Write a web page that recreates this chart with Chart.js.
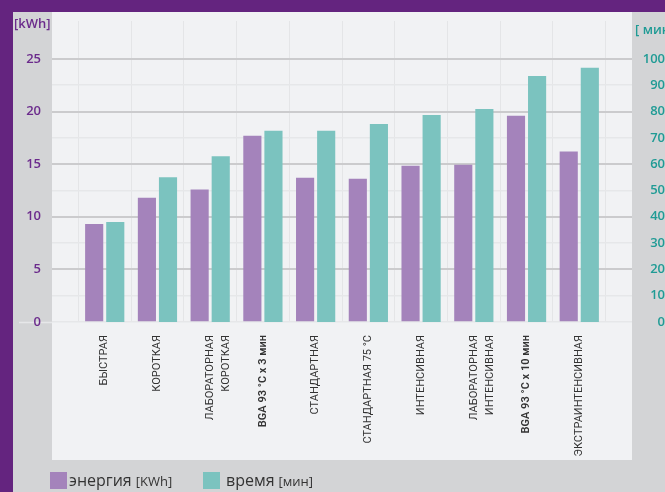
<!DOCTYPE html>
<html><head><meta charset="utf-8">
<script src="https://cdn.jsdelivr.net/npm/chart.js@4/dist/chart.umd.min.js"></script>
<style>html,body{margin:0;padding:0;background:#64247f;overflow:hidden}#wrap{width:665px;height:492px}</style>
</head><body><div id="wrap"><canvas id="c" width="665" height="492"></canvas></div>
<script>
const categories = ['БЫСТРАЯ', 'КОРОТКАЯ', ['ЛАБОРАТОРНАЯ', 'КОРОТКАЯ'], 'BGA 93 °C x 3 мин', 'СТАНДАРТНАЯ', 'СТАНДАРТНАЯ 75 °C', 'ИНТЕНСИВНАЯ', ['ЛАБОРАТОРНАЯ', 'ИНТЕНСИВНАЯ'], 'BGA 93 °C x 10 мин', 'ЭКСТРАИНТЕНСИВНАЯ'];
const energyKWh = [9.3, 11.8, 12.6, 17.7, 13.7, 13.6, 14.85, 14.95, 19.6, 16.2];
const timeMin = [38, 55, 63, 72.7, 72.7, 75.3, 78.7, 81, 93.5, 96.6];
const energyTicks = [0, 2.5, 5, 7.5, 10, 12.5, 15, 17.5, 20, 22.5, 25];
const timeTicks = [0, 10, 20, 30, 40, 50, 60, 70, 80, 90, 100];
const seriesNames = ['энергия', 'время'];
const seriesUnits = ['[KWh]', '[мин]'];
const axisTitles = ['[kWh]', '[ мин]'];

const PURPLE = '#a483bb', TEAL = '#7bc3bf';
const labels = [''].concat(categories, ['']);
const pad = a => [null].concat(a, [null]);
const boldIdx = [4, 9];

const bgPlugin = {
  id: 'bg',
  beforeDraw(chart) {
    const c = chart.ctx, ca = chart.chartArea, ys = chart.scales.y;
    c.save();
    c.fillStyle = '#64247f'; c.fillRect(0, 0, 665, 492);
    c.fillStyle = '#d3d4d6'; c.fillRect(13, 12, 652, 480);
    c.fillStyle = '#f1f2f4'; c.fillRect(ca.left, 12, ca.right - ca.left, 460 - 12);
    const y0 = Math.round(ys.getPixelForValue(0)) + 0.5;
    c.strokeStyle = '#e6e7e9'; c.lineWidth = 1.5;
    c.beginPath(); c.moveTo(19, y0); c.lineTo(ca.left, y0); c.stroke();
    c.restore();
  },
  afterDraw(chart) {
    const c = chart.ctx;
    c.save();
    c.font = '600 13px "Open Sans"'; c.textBaseline = 'middle';
    c.fillStyle = '#6b2b8c'; c.textAlign = 'left';
    c.fillText(axisTitles[0], 14, 24);
    c.fillStyle = '#1f9b95';
    c.fillText(axisTitles[1], 635, 30);
    const cols = [PURPLE, TEAL], xs = [50, 203];
    c.textBaseline = 'alphabetic';
    for (let i = 0; i < 2; i++) {
      c.fillStyle = cols[i]; c.fillRect(xs[i], 472, 17, 17);
      c.fillStyle = '#333';
      c.font = '16px "Open Sans"';
      const tx = xs[i] + (i === 0 ? 19 : 23);
      c.fillText(seriesNames[i], tx, 486);
      const w = c.measureText(seriesNames[i]).width;
      c.font = '13px "Open Sans"';
      c.fillText(seriesUnits[i], tx + w + 4, 486);
    }
    c.restore();
  }
};

new Chart(document.getElementById('c'), {
  type: 'bar',
  data: {
    labels: labels,
    datasets: [
      { label: seriesNames[0] + ' ' + seriesUnits[0], data: pad(energyKWh), backgroundColor: PURPLE, yAxisID: 'y', categoryPercentage: 0.8, barPercentage: 0.86 },
      { label: seriesNames[1] + ' ' + seriesUnits[1], data: pad(timeMin), backgroundColor: TEAL, yAxisID: 'y1', categoryPercentage: 0.8, barPercentage: 0.86 }
    ]
  },
  options: {
    responsive: false,
    animation: false,
    devicePixelRatio: 1,
    layout: { padding: { top: 21, left: 0, right: 0, bottom: 0 } },
    plugins: { legend: { display: false }, tooltip: { enabled: false } },
    scales: {
      x: {
        type: 'category',
        offset: false,
        grid: { display: true, offset: true, color: '#e4e5e7', lineWidth: 1, drawTicks: false },
        border: { display: false },
        ticks: {
          autoSkip: false, maxRotation: 90, minRotation: 90, padding: 13, color: '#333',
          font: ctx => ({ family: '"Liberation Sans Narrow", Roboto, sans-serif', size: 11, weight: boldIdx.includes(ctx.index) ? '600' : 'normal', lineHeight: 1.45 })
        },
        afterFit: s => { s.height = 170; }
      },
      y: {
        position: 'left', min: 0, max: 28.6,
        afterBuildTicks: s => { s.ticks = energyTicks.map(v => ({ value: v })); },
        ticks: { callback: v => (v % 5 === 0 ? String(v) : ''), padding: 11, color: '#6b2b8c', font: { family: '"Open Sans"', size: 13, weight: '600' } },
        grid: {
          drawTicks: false,
          color: ctx => (ctx.tick.value === 0 ? '#e6e7e9' : (ctx.tick.value % 5 === 0 ? '#cbcbcd' : '#e6e7e9')),
          lineWidth: ctx => (ctx.tick.value !== 0 && ctx.tick.value % 5 === 0 ? 2 : 1.5)
        },
        border: { display: false },
        afterFit: s => { s.width = 52; }
      },
      y1: {
        position: 'right', min: 0, max: 114.4,
        afterBuildTicks: s => { s.ticks = timeTicks.map(v => ({ value: v })); },
        ticks: { padding: 6, crossAlign: 'far', color: '#1f9b95', font: { family: '"Open Sans"', size: 13, weight: '600' } },
        grid: { display: false, drawTicks: false },
        border: { display: false },
        afterFit: s => { s.width = 33; }
      }
    }
  },
  plugins: [bgPlugin]
});
</script>
</body></html>
